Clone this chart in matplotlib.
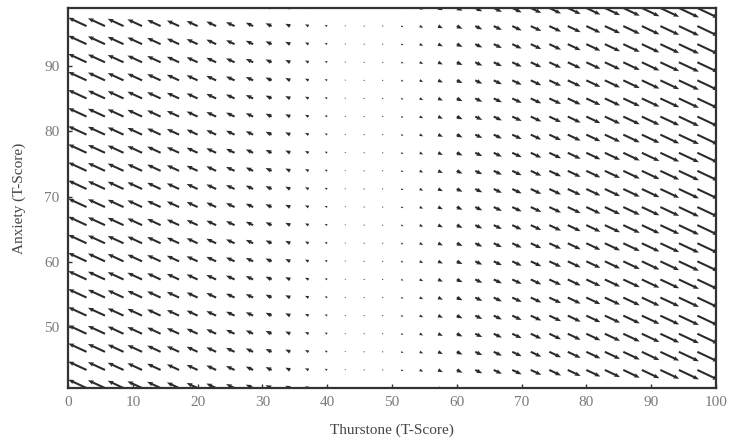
import numpy as np
import matplotlib
matplotlib.use("Agg")
import matplotlib.pyplot as plt

# grid of the field (T-scores)
thurstone = [0.0, 2.86, 5.71, 8.57, 11.43, 14.29, 17.14, 20.0, 22.86, 25.71,
             28.57, 31.43, 34.29, 37.14, 40.0, 42.86, 45.71, 48.57, 51.43, 54.29,
             57.14, 60.0, 62.86, 65.71, 68.57, 71.43, 74.29, 77.14, 80.0, 82.86,
             85.71, 88.57, 91.43, 94.29, 97.14, 100.0]
anxiety = [40.65, 43.42, 46.20, 48.97, 51.75, 54.52, 57.29, 60.07, 62.84, 65.62,
           68.39, 71.16, 73.94, 76.71, 79.49, 82.26, 85.04, 87.81, 90.58, 93.36,
           96.13, 98.90]

# vector components, one value per Thurstone column (same for every row)
u_col = [-2.55, -2.40, -2.24, -2.08, -1.92, -1.76, -1.60, -1.44, -1.28, -1.12,
         -0.96, -0.80, -0.64, -0.48, -0.33, -0.17, -0.02, 0.14, 0.30, 0.45,
         0.61, 0.76, 0.92, 1.07, 1.23, 1.38, 1.54, 1.69, 1.85, 2.00,
         2.16, 2.31, 2.47, 2.63, 2.78, 2.94]
v_col = [1.17, 1.10, 1.02, 0.95, 0.88, 0.81, 0.73, 0.66, 0.59, 0.51,
         0.44, 0.37, 0.30, 0.22, 0.15, 0.08, 0.01, -0.07, -0.14, -0.21,
         -0.28, -0.35, -0.43, -0.50, -0.57, -0.64, -0.72, -0.79, -0.86, -0.93,
         -1.01, -1.08, -1.15, -1.23, -1.30, -1.37]

xticks = [0, 10, 20, 30, 40, 50, 60, 70, 80, 90, 100]
yticks = [50, 60, 70, 80, 90]

plt.rcParams['font.family'] = ['Liberation Serif', 'DejaVu Serif']

X, Y = np.meshgrid(thurstone, anxiety)
U = np.tile(u_col, (len(anxiety), 1))
V = np.tile(v_col, (len(anxiety), 1))

fig = plt.figure(figsize=(7.29, 4.45), dpi=100)
ax = fig.add_axes([0.0933, 0.128, 0.8887, 0.854])

ax.quiver(X, Y, U, V, angles='xy', scale_units='xy', scale=0.85,
          color='#2b2b2b', width=0.0032, headwidth=2.2, headlength=2.8,
          headaxislength=2.5, minlength=0.6, pivot='tail')

ax.set_xlim(0, 100)
ax.set_ylim(40.65, 98.9)
ax.set_xticks(xticks)
ax.set_yticks(yticks)
ax.tick_params(direction='in', length=3, width=1, colors='#333333',
               labelcolor='#7a7a7a', labelsize=11, pad=6)
for s in ax.spines.values():
    s.set_linewidth(1.6)
    s.set_color('#333333')

ax.set_xlabel('Thurstone (T-Score)', fontsize=11, color='#444444', labelpad=10)
ax.set_ylabel('Anxiety (T-Score)', fontsize=11, color='#444444', labelpad=13)

fig.savefig('out.png', dpi=100)
